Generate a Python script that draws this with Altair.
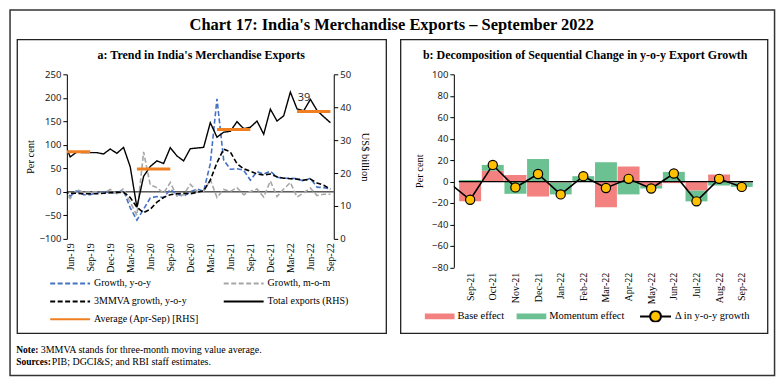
import altair as alt
import pandas as pd
from datetime import datetime

SERIF = "Liberation Serif"
SANS = "Noto Sans"

# ---------------- Panel a data (May-19 .. Sep-22; May-19 is clipped at the axis) -------------
months_a = pd.date_range("2019-05-01", periods=41, freq="MS").strftime("%b-%y").tolist()
tick_labels_a = ["Jun-19", "Sep-19", "Dec-19", "Mar-20", "Jun-20", "Sep-20", "Dec-20",
                 "Mar-21", "Jun-21", "Sep-21", "Dec-21", "Mar-22", "Jun-22", "Sep-22"]

growth_yoy = [4, -9, 2, -6, -6, -2, 0, -2, -2, 3,
              -34, -60, -37, -13, -10, -12, 5, -5, -9, 0,
              6, 1, 60, 198, 68, 48, 49, 46, 25, 43,
              38, 44, 31, 29, 29, 28, 23, 29, 10, 9, 6]
growth_mom = [2, -14, 5, -1, 0, 0, -2, 5, -4, 7,
              -22, -50, 85, 15, 9, -3, 20, -9, -6, 16,
              1, 1, 26, -12, 5, 1, 9, -6, 1, 6,
              -11, 23, -10, 6, 20, -11, -2, 8, -8, -5, -5]
mmva_yoy = [-2, -3, -3, -4, -4, -4, -3, -2, -1, -1,
            -12, -33, -44, -37, -22, -12, -6, -4, -3, -4,
            -1, 2, 25, 62, 91, 85, 60, 49, 44, 38,
            36, 38, 32, 29, 28, 27, 25, 27, 19, 14, 6]
total_exports = [30.0, 24.9, 26.4, 26.2, 26.2, 26.2, 25.8, 27.3, 26.0, 27.8,
                 21.9, 9.6, 19.0, 22.0, 23.7, 22.9, 27.7, 25.2, 23.7, 27.4,
                 27.6, 27.8, 35.3, 30.9, 32.4, 32.7, 35.6, 33.5, 33.9, 35.8,
                 31.8, 39.4, 35.8, 37.4, 44.6, 39.5, 38.9, 42.4, 39.0, 37.1, 35.3]

avg_start = ["Apr-19", "Apr-20", "Apr-21", "Apr-22"]
avg_end = ["Sep-19", "Sep-20", "Sep-21", "Sep-22"]
avg_value = [26.5, 21.2, 33.2, 38.7]

series_a = ["Growth, y-o-y", "Growth, m-o-m", "3MMVA growth, y-o-y",
            "Total exports (RHS)", "Average (Apr-Sep) [RHS]"]
colors_a = ["#4472C4", "#A6A6A6", "#000000", "#000000", "#F07F22"]
dashes_a = [[5, 2.5], [5, 2.5], [5, 2.5], [1, 0], [1, 0]]

# ---------------- Panel b data ----------------
months_b = ["Sep-21", "Oct-21", "Nov-21", "Dec-21", "Jan-22", "Feb-22", "Mar-22",
            "Apr-22", "May-22", "Jun-22", "Jul-22", "Aug-22", "Sep-22"]
base_effect = [-18.3, 10, 6, -14, -1, 0.5, -24, 14, -4, -1.5, -8.5, 6.5, -1]
momentum_effect = [1.5, 5.5, -11.5, 21, -11, 4.5, 18, -12, -2.5, 9, -10, -3.7, -4]
delta_yoy = [-17, 15.5, -5.5, 7, -12, 5, -6, 2.5, -6.5, 7.5, -18.5, 2.5, -5]
delta_prev_month = "Aug-21"
delta_prev_value = 0


def idx_a(label):
    d = datetime.strptime(label, "%b-%y")
    return (d.year - 2019) * 12 + d.month - 6


# ---------------- tables ----------------
lhs_rows = []
for name, vals in zip(series_a[:3], [growth_yoy, growth_mom, mmva_yoy]):
    for m, v in zip(months_a, vals):
        lhs_rows.append({"idx": idx_a(m), "month": m, "series": name, "value": v})
df_lhs = pd.DataFrame(lhs_rows)
df_total = pd.DataFrame({"idx": [idx_a(m) for m in months_a], "month": months_a,
                         "series": series_a[3], "value": total_exports})
df_avg = pd.DataFrame({"start": [idx_a(m) for m in avg_start], "end": [idx_a(m) for m in avg_end],
                       "series": series_a[4], "value": avg_value})
df_avg_last = df_avg.tail(1)

bar_rows = []
for i, m in enumerate(months_b):
    bar_rows.append({"idx": i, "month": m, "effect": "Base effect", "ord": 0, "value": base_effect[i]})
    bar_rows.append({"idx": i, "month": m, "effect": "Momentum effect", "ord": 1, "value": momentum_effect[i]})
df_bars = pd.DataFrame(bar_rows)
df_delta = pd.DataFrame({"idx": list(range(len(months_b))), "month": months_b,
                         "label": "Δ in y-o-y growth", "value": delta_yoy})
df_delta_line = pd.concat([pd.DataFrame({"idx": [-1], "month": [delta_prev_month],
                                         "label": ["Δ in y-o-y growth"], "value": [delta_prev_value]}),
                           df_delta], ignore_index=True)
one = pd.DataFrame({"k": [0]})

# ---------------- sizes, scales, axes ----------------
WA, HA = 267.6, 165.0      # panel a plot area
WB, HB = 305.0, 193.5      # panel b plot area

xa_scale = alt.Scale(domain=[-0.5, 39.5], nice=False, zero=False)
lhs_scale = alt.Scale(domain=[-100, 250], nice=False, zero=False)
rhs_scale = alt.Scale(domain=[0, 50], nice=False, zero=False)
xb_scale = alt.Scale(domain=[-0.5, 12.5], nice=False, zero=False)
yb_scale = alt.Scale(domain=[-80, 100], nice=False, zero=False)

expr_a = "[" + ",".join("'%s'" % s for s in tick_labels_a) + "][round(datum.value/3)]"
expr_b = "[" + ",".join("'%s'" % s for s in months_b) + "][round(datum.value)]"

common_y = dict(domainColor="black", domainWidth=1, tickColor="black", tickSize=4, tickWidth=1,
                labelFont=SANS, labelFontSize=9.5, labelColor="#222", labelFlush=False,
                grid=False, titleFont=SERIF, titleFontSize=10.5, titleFontWeight="normal",
                titleColor="black")
common_x = dict(labelAngle=270, labelFont=SERIF, labelFontSize=10, labelColor="black",
                domain=False, ticks=False, grid=False, title=None, labelOverlap=False)
xa_axis = alt.Axis(orient="bottom", values=list(range(0, 40, 3)), labelExpr=expr_a,
                   labelPadding=4, **common_x)
lhs_axis = alt.Axis(orient="left", values=list(range(-100, 251, 50)), labelPadding=2,
                    title="Per cent", titlePadding=4, **common_y)
rhs_axis = alt.Axis(orient="right", values=list(range(0, 51, 10)), labelPadding=2,
                    title="US$ billion", titlePadding=9, **common_y)
xb_axis = alt.Axis(orient="bottom", values=list(range(13)), labelExpr=expr_b,
                   labelPadding=5, **common_x)
yb_axis = alt.Axis(orient="left", values=list(range(-80, 101, 20)), labelPadding=2,
                   title="Per cent", titlePadding=7, **common_y)

legend_a = alt.Legend(orient="none", legendX=-17.7, legendY=203.7, title=None, columns=2,
                      direction="horizontal",
                      symbolType="stroke", symbolSize=1600, symbolStrokeWidth=2,
                      clipHeight=12, rowPadding=6, columnPadding=24, labelOffset=3,
                      labelFont=SERIF, labelFontSize=10, labelColor="black", padding=0,
                      labelLimit=200)
color_a = alt.Color("series:N", scale=alt.Scale(domain=series_a, range=colors_a), legend=legend_a)
dash_a = alt.StrokeDash("series:N", scale=alt.Scale(domain=series_a, range=dashes_a), legend=legend_a)


def frame(x0, x1, y0, y1, color="#222", width=1.3):
    return alt.Chart(one).mark_rect(fill="transparent", stroke=color, strokeWidth=width).encode(
        x=alt.value(x0), x2=alt.value(x1), y=alt.value(y0), y2=alt.value(y1))


def label(text, x, y, size, weight="normal", align="center"):
    return alt.Chart(one).mark_text(text=text, font=SERIF, fontSize=size, fontWeight=weight,
                                    align=align, baseline="alphabetic", color="black").encode(
        x=alt.value(x), y=alt.value(y))


# ---------------- panel a ----------------
# x is shared in the panel, so every layer carries the same x axis (merged into one)
zero_a = alt.Chart(one).mark_rule(color="black", strokeWidth=1).encode(
    x=alt.X(datum=-0.5, scale=xa_scale, axis=xa_axis), x2=alt.X2(datum=39.5),
    y=alt.Y(datum=0, scale=lhs_scale, axis=None))
lhs_lines = alt.Chart(df_lhs).mark_line(clip=True, strokeWidth=1.6).encode(
    x=alt.X("idx:Q", scale=xa_scale, axis=xa_axis),
    y=alt.Y("value:Q", scale=lhs_scale, axis=lhs_axis),
    color=color_a, strokeDash=dash_a, detail="series:N")
total_line = alt.Chart(df_total).mark_line(clip=True, strokeWidth=1.4).encode(
    x=alt.X("idx:Q", scale=xa_scale, axis=xa_axis),
    y=alt.Y("value:Q", scale=rhs_scale, axis=rhs_axis),
    color=color_a, strokeDash=dash_a)
avg_rule = alt.Chart(df_avg).mark_rule(clip=True, strokeWidth=3).encode(
    x=alt.X("start:Q", scale=xa_scale, axis=xa_axis), x2="end:Q",
    y=alt.Y("value:Q", scale=rhs_scale, axis=None),
    color=color_a, strokeDash=dash_a)
avg_label = alt.Chart(df_avg_last).mark_text(font=SANS, fontSize=11, color="#333", dx=7, dy=-14).encode(
    x=alt.X("start:Q", scale=xa_scale, axis=xa_axis),
    y=alt.Y("value:Q", scale=rhs_scale, axis=None),
    text=alt.Text("value:Q", format=".0f"))

decor_a = [
    frame(-56.95, 709.55, -64.55, 301.95, "#333", 1.5),
    frame(-49.7, 320.3, -34.8, 259.7),
    label("Chart 17: India's Merchandise Exports – September 2022", 325.8, -44.3, 16.5, "bold"),
    label("a: Trend in India's Merchandise Exports", 134.8, -15.8, 12, "bold"),
    label("Note:", -50.7, 279.7, 9.5, "bold", "left"),
    label("3MMVA stands for three-month moving value average.", -26.2, 279.7, 10, "normal", "left"),
    label("Sources:", -50.7, 291.2, 9.5, "bold", "left"),
    label("PIB; DGCI&S; and RBI staff estimates.", -15.2, 291.2, 10, "normal", "left"),
]

panel_a = alt.layer(*decor_a, zero_a, lhs_lines, total_line, avg_rule, avg_label).resolve_scale(
    y="independent").properties(width=WA, height=HA)

# ---------------- panel b ----------------
bar_legend = alt.Legend(orient="none", legendX=-29.3, legendY=236.7, title=None, direction="horizontal",
                        symbolType="M-1,-0.2H1V0.2H-1Z", symbolSize=900, symbolStrokeWidth=0,
                        clipHeight=12, columnPadding=12, labelOffset=3, labelFont=SERIF,
                        labelFontSize=10.5, labelColor="black", padding=0)
bars = alt.Chart(df_bars).mark_bar(size=22, orient="vertical").encode(
    x=alt.X("idx:Q", scale=xb_scale, axis=xb_axis),
    y=alt.Y("value:Q", scale=yb_scale, axis=yb_axis, stack="zero"),
    color=alt.Color("effect:N", scale=alt.Scale(domain=["Base effect", "Momentum effect"],
                                                range=["#F3817F", "#6CC192"]), legend=bar_legend),
    order=alt.Order("ord:Q"))
zero_b = alt.Chart(one).mark_rule(color="black", strokeWidth=1.2).encode(
    x=alt.X(datum=-0.5, scale=xb_scale, axis=xb_axis), x2=alt.X2(datum=12.5),
    y=alt.Y(datum=0, scale=yb_scale, axis=yb_axis))
delta_line = alt.Chart(df_delta_line).mark_line(clip=True, color="black", strokeWidth=1.6).encode(
    x=alt.X("idx:Q", scale=xb_scale, axis=xb_axis),
    y=alt.Y("value:Q", scale=yb_scale, axis=yb_axis))
dot_legend = alt.Legend(orient="none", legendX=185.7, legendY=236.7, title=None,
                        symbolType="M-1,0H-0.35M0.35,0H1M0.35,0A0.35,0.35 0 1,1 -0.35,0A0.35,0.35 0 1,1 0.35,0",
                        symbolSize=961, symbolStrokeColor="black", symbolStrokeWidth=2,
                        clipHeight=12, labelOffset=3, labelFont=SERIF, labelFontSize=10.5,
                        labelColor="black", padding=0)
delta_points = alt.Chart(df_delta).mark_point(filled=True, size=85, stroke="black", strokeWidth=1.2,
                                               opacity=1).encode(
    x=alt.X("idx:Q", scale=xb_scale, axis=xb_axis),
    y=alt.Y("value:Q", scale=yb_scale, axis=yb_axis),
    color=alt.Color("label:N", scale=alt.Scale(domain=["Δ in y-o-y growth"], range=["#FFC000"]),
                    legend=dot_legend))

decor_b = [
    frame(-53.3, 314.7, -34.8, 259.7),
    label("b: Decomposition of Sequential Change in y-o-y Export Growth", 131.7, -15.8, 12, "bold"),
]

panel_b = alt.layer(*decor_b, bars, zero_b, delta_line, delta_points).resolve_scale(
    color="independent").properties(width=WB, height=HB)

chart = alt.hconcat(panel_a, panel_b, spacing=120, bounds="flush").resolve_scale(
    color="independent", strokeDash="independent"
).properties(padding=0, background="white").configure_view(stroke="transparent")

chart.save("out.html", embed_options={"renderer": "svg", "actions": False})
